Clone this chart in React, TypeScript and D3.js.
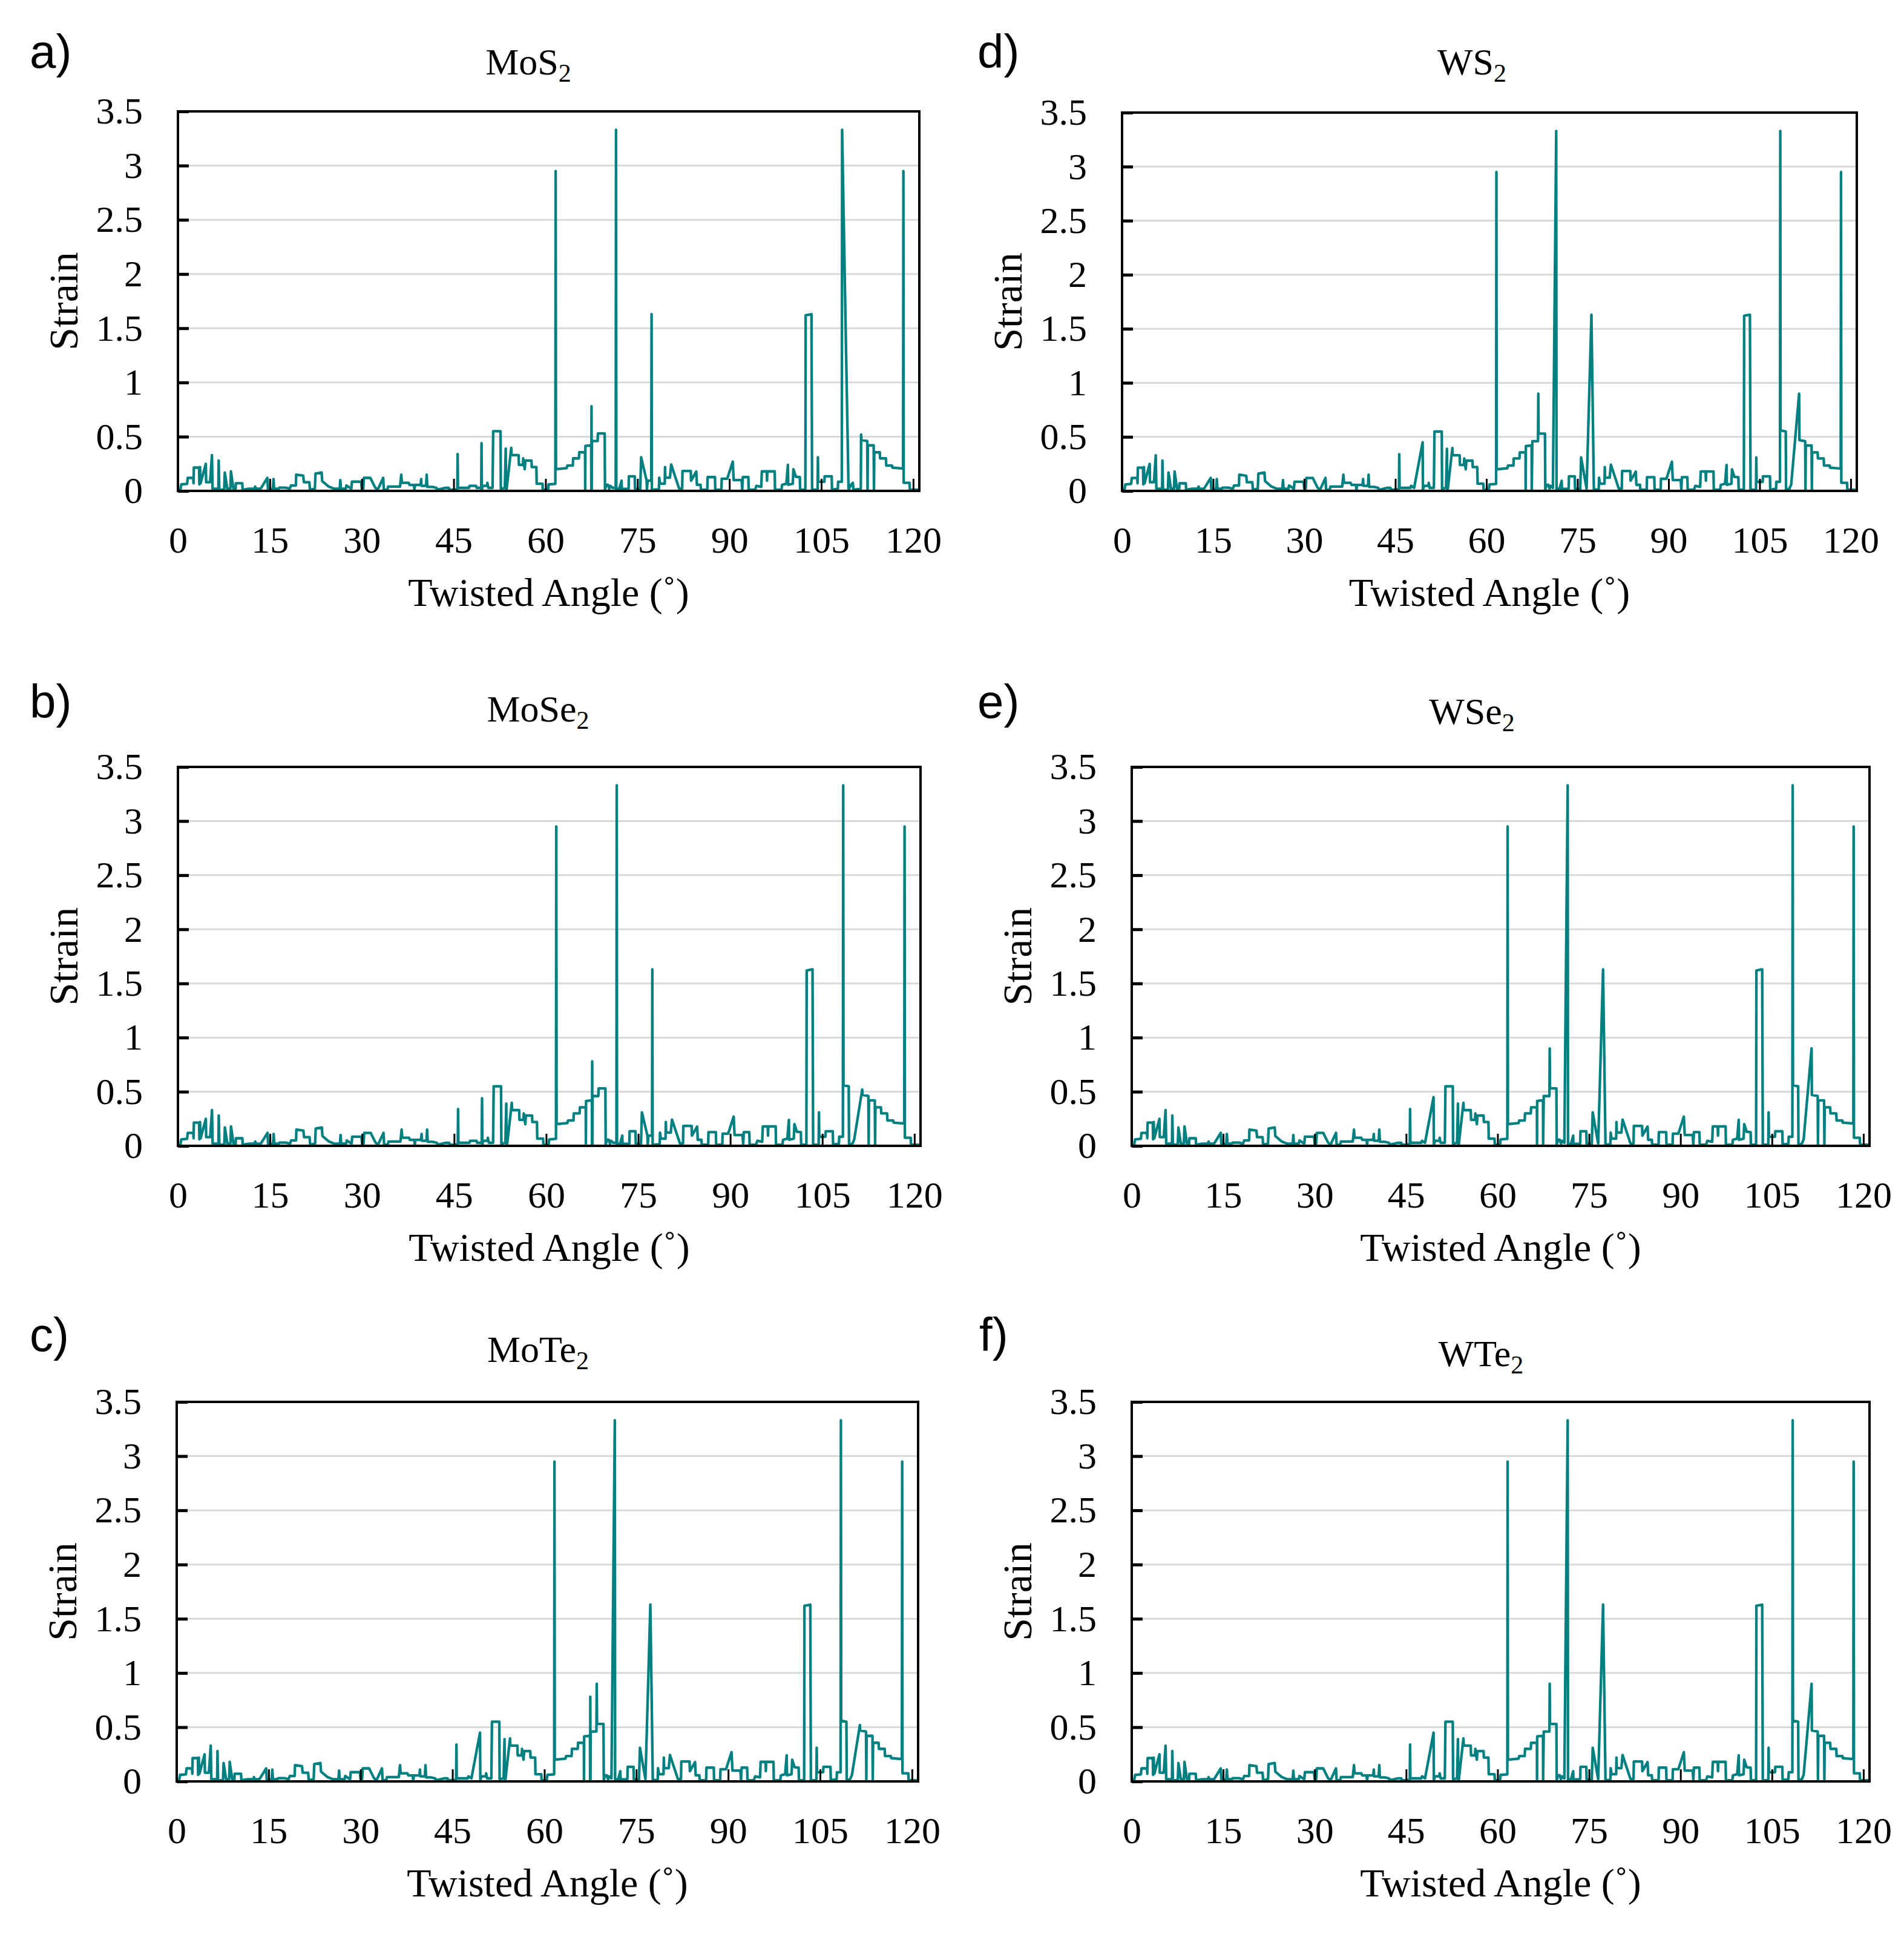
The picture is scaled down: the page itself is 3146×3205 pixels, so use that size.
import React from "react";
import * as d3 from "d3";

type Pt = [number, number];

// axis ticks
const X_TICKS = [0, 15, 30, 45, 60, 75, 90, 105, 120];
const Y_TICKS = [0, 0.5, 1, 1.5, 2, 2.5, 3, 3.5];
const X_MAX = 121;
const Y_MAX = 3.5;

// strain vs twisted angle in pieces; panels share most of them
const seg0: Pt[] = [
  [0.4, 0.01], [0.55, 0.06], [1.5, 0.065], [1.6, 0.12], [2.5, 0.12], [2.55, 0.07], [2.6, 0.215],
  [3.45, 0.215], [3.5, 0.06], [3.6, 0.22], [3.7, 0.07], [4.55, 0.25], [4.6, 0.08], [5.25, 0.08],
  [5.55, 0.33], [5.65, 0.02], [6.6, 0.02], [6.65, 0.28], [6.75, 0.01], [7.55, 0.01], [7.65, 0.17],
  [8.05, 0.02], [8.55, 0.02], [8.65, 0.18], [9.05, 0.02], [9.4, 0.01], [9.45, 0.07], [10.5, 0.07],
  [10.55, 0.01], [11.6, 0.02], [12.5, 0.02], [12.6, 0.04], [12.7, 0.02], [13.5, 0.02], [14.6, 0.12],
  [14.7, 0.01], [15.5, 0.02], [15.6, 0.11], [15.7, 0.02], [16.45, 0.02], [16.55, 0.03], [17.55, 0.03],
  [18.25, 0.02], [18.45, 0.05], [19.25, 0.05], [19.3, 0.15], [20.45, 0.14], [20.55, 0.08], [21.45, 0.08],
  [21.55, 0.01], [22.35, 0.02], [22.45, 0.16], [23.45, 0.17], [23.55, 0.09], [24.6, 0.04], [25.5, 0.02],
  [26.4, 0.02], [26.5, 0.1], [26.6, 0.02], [27.4, 0.02], [27.5, 0.05], [28.3, 0.02], [28.4, 0.085],
  [29.9, 0.085], [30.0, 0.02], [30.25, 0.02], [30.35, 0.12], [31.4, 0.12], [32.2, 0.03], [32.6, 0.01],
  [33.5, 0.12], [33.6, 0.01], [34.2, 0.01], [34.3, 0.04], [36.25, 0.04], [36.45, 0.15], [36.55, 0.075],
  [37.65, 0.075], [37.8, 0.055], [38.5, 0.055], [38.6, 0.01], [38.7, 0.055], [39.6, 0.055], [39.7, 0.11],
  [39.75, 0.047], [40.5, 0.047], [40.6, 0.15], [40.7, 0.037], [41.5, 0.037], [42.2, 0.028], [42.3, 0.01],
  [43.6, 0.028], [44.2, 0.028], [44.3, 0.01], [45.2, 0.01], [45.6, 0.02], [45.65, 0.34], [45.7, 0.028],
  [47.5, 0.028], [47.6, 0.047]
];
const near49Thin: Pt[] = [[48.65, 0.047], [48.75, 0.028], [49.5, 0.028], [49.55, 0.44], [49.6, 0.01]];
const near49Wide: Pt[] = [[48.1, 0.028], [49.5, 0.45], [49.55, 0.01]];
const seg50: Pt[] = [
  [49.75, 0.047], [50.45, 0.047], [50.5, 0.075], [50.65, 0.028], [51.35, 0.028], [51.45, 0.55],
  [52.65, 0.55], [52.7, 0.02], [53.35, 0.028], [53.5, 0.39], [53.55, 0.02], [53.65, 0.02], [54.4, 0.397],
  [54.45, 0.33], [55.6, 0.33], [55.65, 0.24], [56.3, 0.24], [56.35, 0.3], [56.6, 0.2], [56.7, 0.28],
  [57.7, 0.28], [57.75, 0.22], [58.5, 0.22], [58.55, 0.066], [59.5, 0.066], [59.55, 0.01], [60.4, 0.01],
  [60.5, 0.06], [61.6, 0.065], [61.65, 2.95], [61.7, 0.2], [63.45, 0.21], [63.55, 0.234], [64.45, 0.234],
  [64.5, 0.3], [65.45, 0.3], [65.5, 0.356], [66.45, 0.356], [66.47, 0.01], [66.5, 0.415], [67.45, 0.42],
  [67.47, 0.01]
];
const near67A: Pt[] = [[67.5, 0.78], [67.53, 0.01], [67.57, 0.46], [68.5, 0.46], [68.55, 0.53]];
const near67C: Pt[] = [[67.5, 0.78], [67.53, 0.01], [67.57, 0.46], [68.5, 0.46], [68.55, 0.9], [68.6, 0.53]];
const near67D: Pt[] = [[67.57, 0.46], [68.5, 0.46], [68.55, 0.9], [68.6, 0.53]];
const seg69: Pt[] = [
  [69.65, 0.53], [69.7, 0.01], [69.9, 0.056], [70.2, 0.056], [70.4, 0.019], [70.55, 0.047], [70.95, 0.028]
];
const near71Thin: Pt[] = [[71.45, 0.028], [71.5, 3.33], [71.55, 0.01]];
const near71Slant: Pt[] = [[71.5, 3.33], [71.55, 0.01]];
const seg72: Pt[] = [
  [71.75, 0.019], [72.05, 0.019], [72.4, 0.094], [72.45, 0.01], [72.65, 0.019], [73.55, 0.019],
  [73.6, 0.135], [74.55, 0.135], [74.6, 0.02], [75.45, 0.015], [75.6, 0.31]
];
const near77Thin: Pt[] = [[76.5, 0.094], [76.55, 0.01], [76.65, 0.094], [77.25, 0.094], [77.3, 1.63], [77.35, 0.01]];
const near77Wide: Pt[] = [[76.5, 0.02], [77.3, 1.63], [77.7, 0.01]];
const seg78: Pt[] = [
  [78.5, 0.015], [78.55, 0.122], [78.7, 0.066], [79.45, 0.066], [79.5, 0.22], [79.55, 0.122], [80.3, 0.122],
  [80.5, 0.243], [81.8, 0.022], [82.3, 0.022], [82.35, 0.184], [83.7, 0.184], [83.75, 0.094], [84.6, 0.178],
  [84.7, 0.056], [85.3, 0.056], [85.35, 0.01], [86.4, 0.01], [86.45, 0.127], [87.65, 0.127], [87.7, 0.01],
  [88.7, 0.01], [88.75, 0.112], [89.65, 0.112], [90.55, 0.27], [90.7, 0.1], [92.0, 0.1], [92.1, 0.01],
  [92.2, 0.127], [93.1, 0.127], [93.15, 0.01], [94.2, 0.01], [94.4, 0.047], [95.2, 0.037], [95.3, 0.18],
  [96.1, 0.18], [96.15, 0.094], [96.2, 0.18], [97.4, 0.18], [97.45, 0.01], [98.5, 0.01], [98.6, 0.056],
  [99.3, 0.066], [99.55, 0.24], [99.6, 0.056], [100.35, 0.066], [100.45, 0.2], [100.85, 0.13], [101.5, 0.127],
  [101.55, 0.01], [102.4, 0.01], [102.45, 1.62], [103.4, 1.63], [103.5, 0.01], [104.4, 0.01], [104.45, 0.31],
  [104.5, 0.084], [105.5, 0.084], [105.55, 0.135], [106.7, 0.135], [106.75, 0.01], [107.7, 0.02],
  [107.75, 0.084], [108.35, 0.084]
];
const near108A: Pt[] = [
  [108.4, 3.33], [109.45, 0.01], [109.85, 0.056], [110.15, 0.075], [110.25, 0.01], [111.45, 0.02], [111.5, 0.52]
];
const near108B: Pt[] = [
  [108.4, 3.33], [108.45, 0.56], [109.3, 0.55], [109.35, 0.01], [109.9, 0.02], [110.2, 0.06], [111.5, 0.52]
];
const near108D: Pt[] = [
  [108.4, 3.33], [108.45, 0.56], [109.3, 0.55], [109.35, 0.01], [109.9, 0.02], [110.2, 0.06], [111.5, 0.9]
];
const tail: Pt[] = [
  [111.55, 0.47], [112.5, 0.46], [112.55, 0.01], [112.6, 0.42], [113.55, 0.42], [113.6, 0.01], [113.65, 0.356],
  [114.55, 0.356], [114.6, 0.3], [115.55, 0.3], [115.6, 0.234], [116.55, 0.234], [116.6, 0.215],
  [118.35, 0.206], [118.4, 2.95], [118.45, 0.075], [119.4, 0.075], [119.45, 0.01], [120.7, 0.01]
];

const seriesA = [...seg0, ...near49Thin, ...seg50, ...near67A, ...seg69, ...near71Thin, ...seg72, ...near77Thin, ...seg78, ...near108A, ...tail];
const seriesB = [...seg0, ...near49Thin, ...seg50, ...near67A, ...seg69, ...near71Thin, ...seg72, ...near77Thin, ...seg78, ...near108B, ...tail];
const seriesC = [...seg0, ...near49Wide, ...seg50, ...near67C, ...seg69, ...near71Slant, ...seg72, ...near77Wide, ...seg78, ...near108B, ...tail];
const seriesW = [...seg0, ...near49Wide, ...seg50, ...near67D, ...seg69, ...near71Slant, ...seg72, ...near77Wide, ...seg78, ...near108D, ...tail];

const LABELS = ["a)", "b)", "c)", "d)", "e)", "f)"];
const MATERIALS = ["MoS", "MoSe", "MoTe", "WS", "WSe", "WTe"];
const SERIES = [seriesA, seriesB, seriesC, seriesW, seriesW, seriesW];

// page placement of each panel (px)
const BOXES = [
  { left: 294, right: 1519, top: 184, bottom: 811, lx: 49, ly: 112, tx: 873, ty: 123 },
  { left: 294, right: 1521, top: 1267, bottom: 1893, lx: 49, ly: 1186, tx: 889, ty: 1192 },
  { left: 292, right: 1517, top: 2316, bottom: 2943, lx: 49, ly: 2232, tx: 889, ty: 2250 },
  { left: 1854, right: 3068, top: 186, bottom: 811, lx: 1615, ly: 112, tx: 2432, ty: 123 },
  { left: 1870, right: 3089, top: 1267, bottom: 1893, lx: 1615, ly: 1186, tx: 2432, ty: 1196 },
  { left: 1870, right: 3089, top: 2316, bottom: 2943, lx: 1618, ly: 2232, tx: 2447, ty: 2257 }
];

const TEAL = "#008080";
const GRID = "#d9d9d9";
const SERIF = "'Liberation Serif', 'DejaVu Serif', serif";
const SANS = "'Liberation Sans', Arial, sans-serif";

export default class App extends React.Component {
  _root: SVGSVGElement | null = null;

  componentDidMount() {
    const svg = d3.select(this._root);
    svg.selectAll("*").remove();
    svg.append("rect").attr("width", 3146).attr("height", 3205).attr("fill", "#fff");

    SERIES.forEach((data, i) => {
      const b = BOXES[i];
      const x = d3.scaleLinear().domain([0, X_MAX]).range([b.left, b.right]);
      const y = d3.scaleLinear().domain([0, Y_MAX]).range([b.bottom, b.top]);
      const g = svg.append("g");

      // gridlines
      g.selectAll(".grid")
        .data(Y_TICKS.filter(v => v > 0 && v < Y_MAX))
        .enter()
        .append("line")
        .attr("x1", b.left)
        .attr("x2", b.right)
        .attr("y1", d => y(d))
        .attr("y2", d => y(d))
        .attr("stroke", GRID)
        .attr("stroke-width", 3);

      // the strain curve
      const line = d3
        .line<Pt>()
        .x(d => x(d[0]))
        .y(d => y(d[1]));
      g.append("path")
        .attr("d", line(data))
        .attr("fill", "none")
        .attr("stroke", TEAL)
        .attr("stroke-width", 4.3)
        .attr("stroke-linejoin", "round")
        .attr("stroke-linecap", "round");

      // axes, ticks point inward
      const yAxis = g
        .append("g")
        .attr("transform", `translate(${b.left},0)`)
        .call(
          d3.axisLeft(y).tickValues(Y_TICKS).tickSizeInner(-18).tickSizeOuter(0).tickPadding(58)
            .tickFormat(d => String(d))
        );
      yAxis.select(".domain").remove();
      yAxis.selectAll("line").attr("stroke", "#000").attr("stroke-width", 5);
      yAxis.selectAll("text").attr("font-family", SERIF).attr("font-size", 62).attr("fill", "#000");

      const xAxis = g
        .append("g")
        .attr("transform", `translate(0,${b.bottom})`)
        .call(
          d3.axisBottom(x).tickValues(X_TICKS).tickSizeInner(-20).tickSizeOuter(0).tickPadding(58)
            .tickFormat(d => String(d))
        );
      xAxis.select(".domain").remove();
      xAxis.selectAll("line").attr("stroke", "#000").attr("stroke-width", 3);
      xAxis.selectAll("text").attr("font-family", SERIF).attr("font-size", 62).attr("fill", "#000");

      // frame
      g.append("rect")
        .attr("x", b.left)
        .attr("y", b.top)
        .attr("width", b.right - b.left)
        .attr("height", b.bottom - b.top)
        .attr("fill", "none")
        .attr("stroke", "#000")
        .attr("stroke-width", 4);

      // axis titles
      g.append("text")
        .attr("x", (b.left + b.right) / 2)
        .attr("y", b.bottom + 190)
        .attr("text-anchor", "middle")
        .attr("font-family", SERIF)
        .attr("font-size", 66)
        .text("Twisted Angle (˚)");
      g.append("text")
        .attr("transform", `translate(${b.left - 166},${(b.top + b.bottom) / 2}) rotate(-90)`)
        .attr("text-anchor", "middle")
        .attr("font-family", SERIF)
        .attr("font-size", 68)
        .text("Strain");

      // chart title with subscript 2
      const t = g
        .append("text")
        .attr("x", b.tx)
        .attr("y", b.ty)
        .attr("text-anchor", "middle")
        .attr("font-family", SERIF)
        .attr("font-size", 62);
      t.append("tspan").text(MATERIALS[i]);
      t.append("tspan").attr("font-size", 42).attr("dy", 12).text("2");

      // panel letter
      g.append("text")
        .attr("x", b.lx)
        .attr("y", b.ly)
        .attr("font-family", SANS)
        .attr("font-size", 78)
        .text(LABELS[i]);
    });
  }

  _setRef = (node: SVGSVGElement | null) => {
    this._root = node;
  };

  render() {
    return (
      <svg
        ref={this._setRef}
        width={3146}
        height={3205}
        style={{ position: "absolute", left: 0, top: 0, display: "block" }}
      />
    );
  }
}
